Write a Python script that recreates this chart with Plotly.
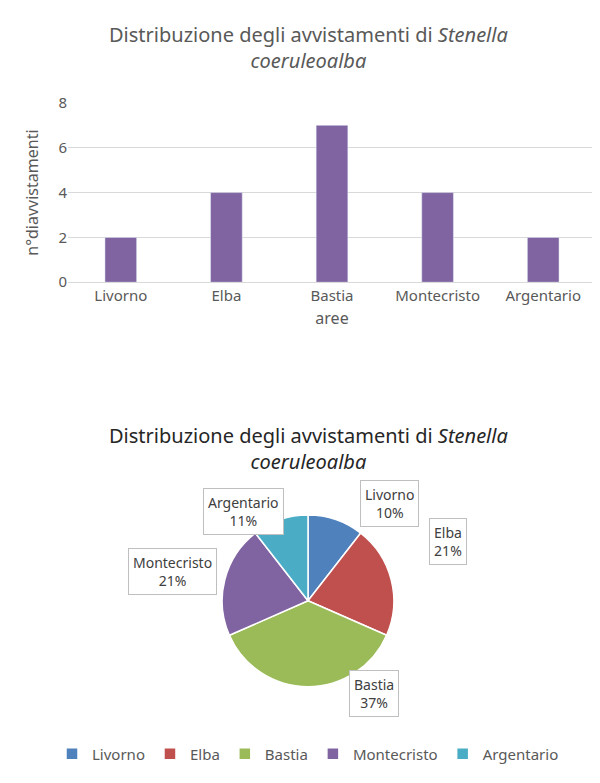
import plotly.graph_objects as go

# data
areas = ["Livorno", "Elba", "Bastia", "Montecristo", "Argentario"]
counts = [2, 4, 7, 4, 2]
pct_labels = ["10%", "21%", "37%", "21%", "11%"]
pie_colors = ["#4F81BD", "#C0504D", "#9BBB59", "#8064A2", "#4BACC6"]

FONT = "Noto Sans"
GREY = "#595959"

fig = go.Figure()

fig.add_trace(go.Bar(x=areas, y=counts, marker_color="#8064A2", width=0.3,
                     showlegend=False, xaxis="x", yaxis="y"))

fig.add_trace(go.Pie(labels=areas, values=counts, marker=dict(colors=pie_colors,
                     line=dict(color="white", width=1.5)),
                     sort=False, direction="clockwise", rotation=0,
                     textinfo="none", domain=dict(x=[0.35, 0.65], y=[0.125, 0.35]),
                     showlegend=True))

# callout labels for pie
label_pos = [(0.635, 0.365), (0.765, 0.285), (0.61, 0.085), (0.2, 0.245), (0.325, 0.355)]
annots = []
for a, p, (x, y) in zip(areas, pct_labels, label_pos):
    annots.append(dict(x=x, y=y, xref="paper", yref="paper", showarrow=False,
                       text=a + "<br>" + p, align="center",
                       font=dict(family=FONT, size=14, color="#404040"),
                       bordercolor="#BFBFBF", borderwidth=1, borderpad=4,
                       bgcolor="white"))

annots.append(dict(x=0.5, y=1.0, xref="paper", yref="paper", showarrow=False,
                   text="Distribuzione degli avvistamenti di <i>Stenella</i><br><i>coeruleoalba</i>",
                   font=dict(family=FONT, size=20, color=GREY), yanchor="top"))
annots.append(dict(x=0.5, y=0.475, xref="paper", yref="paper", showarrow=False,
                   text="Distribuzione degli avvistamenti di <i>Stenella</i><br><i>coeruleoalba</i>",
                   font=dict(family=FONT, size=20, color="#262626"), yanchor="top"))

fig.update_layout(
    width=600, height=783,
    paper_bgcolor="white", plot_bgcolor="white",
    margin=dict(l=0, r=0, t=0, b=0),
    font=dict(family=FONT, color=GREY, size=15),
    xaxis=dict(domain=[0.1, 0.98], anchor="y", showline=True, linecolor="#D9D9D9",
               tickfont=dict(size=15, color=GREY),
               title=dict(text="aree", font=dict(size=16, color=GREY), standoff=8)),
    yaxis=dict(domain=[0.655, 0.89], anchor="x", range=[0, 8], dtick=2,
               gridcolor="#D9D9D9", zeroline=False, tickfont=dict(size=15, color=GREY),
               title=dict(text="n°diavvistamenti", font=dict(size=16, color=GREY), standoff=15)),
    legend=dict(orientation="h", x=0.5, xanchor="center", y=0.015, yanchor="bottom",
                font=dict(size=15, color=GREY), itemwidth=30),
    annotations=annots,
)

fig.write_html("out.html")
